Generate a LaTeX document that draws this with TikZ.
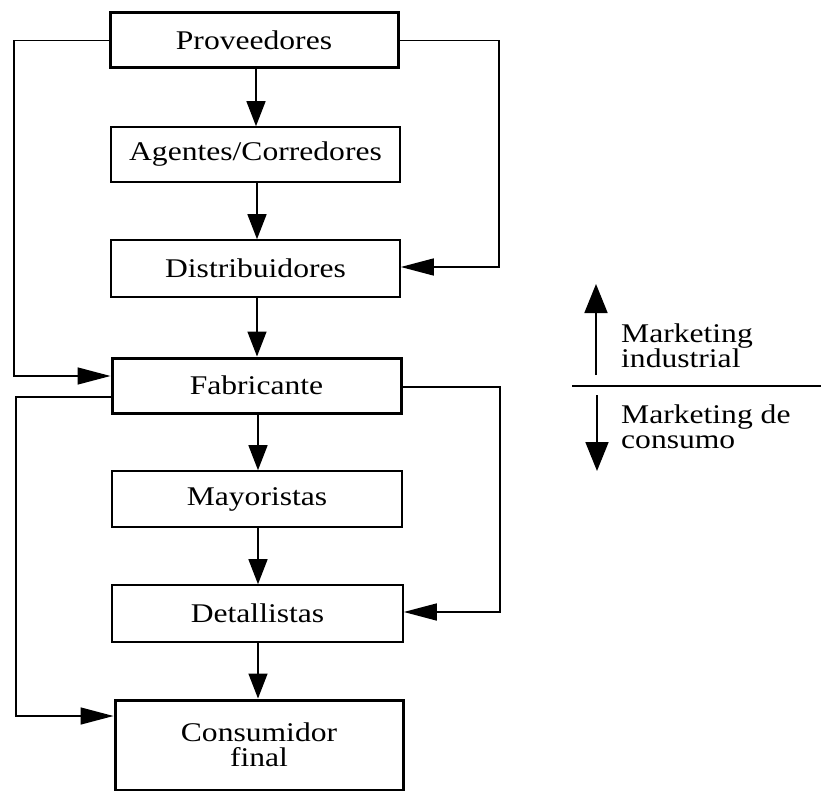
\documentclass[tikz,border=0pt]{standalone}
\usepackage{fontspec}
\setmainfont{Liberation Serif}[FakeStretch=1.17]
\usetikzlibrary{arrows.meta}
\begin{document}
\begin{tikzpicture}[x=1pt,y=-1pt,
  box/.style={draw,line width=1.6pt,inner sep=0pt,align=center,
    font=\fontsize{27}{25.5}\selectfont},
  strongbox/.style={box,line width=3pt},
  conn/.style={line width=1.5pt},
  vtip/.style={conn,-{Triangle[length=25pt,width=19pt]}},
  htip/.style={conn,-{Triangle[length=33pt,width=17pt]}},
  legtip/.style={line width=1.8pt,-{Triangle[length=29pt,width=23pt]}},
  legtext/.style={anchor=west,align=left,inner sep=0pt,
    font=\fontsize{27}{25}\selectfont}]
\useasboundingbox (0,0) rectangle (821,791);

% channel chain
\node[strongbox,minimum width=288pt,minimum height=55pt] (prov) at (254,40.5) {Proveedores};
\node[box,minimum width=289pt,minimum height=55pt] (agen) at (255.5,154.5) {Agentes/Corredores};
\node[box,minimum width=289pt,minimum height=57pt] (dist) at (255.5,268.5) {Distribuidores};
\node[strongbox,minimum width=289pt,minimum height=55pt] (fabr) at (256.5,385.5) {Fabricante};
\node[box,minimum width=290pt,minimum height=56pt] (mayo) at (257,499) {Mayoristas};
\node[box,minimum width=291pt,minimum height=57pt] (deta) at (257.5,613.5) {Detallistas};
\node[strongbox,minimum width=288pt,minimum height=90pt] (cons) at (259,745) {Consumidor\\final};

% direct flow
\draw[vtip] (prov.south -| 256,0) -- (agen.north -| 256,0);
\draw[vtip] (agen.south -| 257,0) -- (dist.north -| 257,0);
\draw[vtip] (dist.south -| 257,0) -- (fabr.north -| 257,0);
\draw[vtip] (fabr.south -| 258,0) -- (mayo.north -| 258,0);
\draw[vtip] (mayo.south -| 258,0) -- (deta.north -| 258,0);
\draw[vtip] (deta.south -| 258,0) -- (cons.north -| 258,0);

% bypass routes
\draw[htip] (prov.west) -- (14,40.5) |- (fabr.west |- 0,376);
\draw[htip] (prov.east) -- (499,40.5) |- (dist.east |- 0,267);
\draw[htip] (fabr.west |- 0,397) -- (16,397) |- (cons.west |- 0,716);
\draw[htip] (fabr.east |- 0,387) -- (500,387) |- (deta.east |- 0,612);

% industrial / consumer legend
\coordinate (upfoot) at (596,375);
\coordinate (uptip) at (596,284);
\coordinate (dnfoot) at (597,395);
\coordinate (dntip) at (597,471);
\coordinate (divl) at (572,386);
\coordinate (divr) at (821,386);
\draw[legtip] (upfoot) -- (uptip);
\draw[legtip] (dnfoot) -- (dntip);
\draw[line width=2pt] (divl) -- (divr);
\node[legtext] (ind) at (621,346) {Marketing\\industrial};
\node[legtext] (con) at (621,427) {Marketing de\\consumo};
\end{tikzpicture}
\end{document}
